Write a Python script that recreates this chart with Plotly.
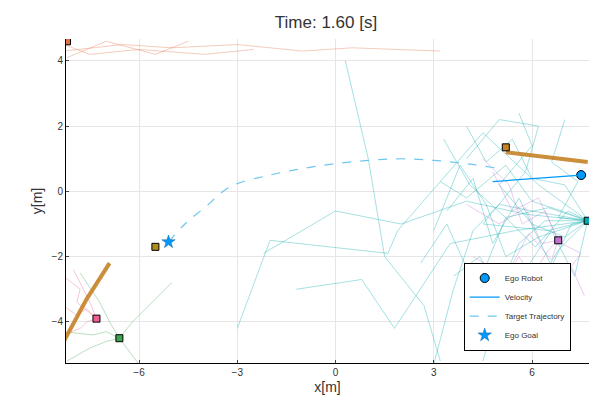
import plotly.graph_objects as go

# agent sample trajectories (hand-read, approximate)
cyan_paths = [
    [(3.0,-5.3),(3.6,-3.0),(4.2,-1.2),(5.0,-0.4),(6.0,-0.6),(7.7,-0.9)],
    [(0.3,4.0),(1.0,1.0),(1.5,-2.0),(2.7,-3.5),(3.2,-5.2)],
    [(-2.2,-1.9),(0.0,-0.6),(2.0,-1.0),(4.0,-0.3),(5.8,-0.7),(7.7,-0.9)],
    [(-1.2,-3.0),(0.8,-2.7),(1.8,-4.2),(3.5,-1.6),(5.5,-1.2),(7.7,-0.9)],
    [(-3.0,-4.2),(-2.0,-1.5),(1.6,-1.9),(1.9,-1.2),(4.5,1.8),(6.2,0.2),(7.7,-0.9)],
    [(4.0,1.0),(5.0,2.2),(6.2,2.0),(5.8,0.6),(4.5,-1.0),(6.5,-1.2),(7.7,-0.9)],
    [(3.4,-0.6),(4.2,0.4),(4.8,-1.6),(5.6,-0.2),(6.6,-2.3),(7.2,-1.0),(7.7,-0.9)],
    [(4.5,-5.2),(5.0,-3.4),(5.5,-2.2),(6.1,-3.0),(6.8,-1.8),(7.7,-0.9)],
    [(3.2,0.3),(4.0,-0.2),(5.2,0.8),(6.0,-0.3),(6.9,-0.6),(7.7,-0.9)],
    [(6.2,-4.0),(5.8,-2.4),(6.6,-1.2),(7.3,-2.6),(7.7,-0.9)],
    [(3.6,-2.6),(4.4,-2.0),(5.0,-3.0),(5.6,-1.6),(6.4,-0.9),(7.7,-0.9)],
    [(4.0,2.0),(4.6,0.9),(5.4,1.6),(6.0,0.4),(7.0,0.2),(7.7,-0.9)],
    [(7.0,2.2),(6.6,0.9),(7.4,0.3),(6.8,-0.8),(7.7,-0.9)],
    [(3.0,-1.2),(3.8,0.8),(4.6,-0.4),(5.2,-2.0),(6.2,-1.4),(7.7,-0.9)],
    [(2.6,-2.2),(3.4,-1.0),(4.3,-3.0),(5.2,-0.8),(6.5,-0.5),(7.7,-0.9)],
    [(5.6,2.4),(6.0,1.4),(5.0,0.2),(6.0,-1.0),(7.0,-1.4),(7.7,-0.9)],
    [(3.3,1.6),(4.1,0.2),(5.3,-0.9),(6.1,-1.7),(7.1,-0.6),(7.7,-0.9)],
]
purple_paths = [
    [(4.0,-0.4),(5.0,-1.0),(5.8,-0.5),(6.3,-1.6),(6.8,-1.5)],
    [(5.0,-3.0),(5.6,-2.0),(6.0,-2.6),(6.5,-1.8),(6.8,-1.5)],
    [(4.8,0.6),(5.4,-0.6),(6.2,-0.2),(6.6,-1.1),(6.8,-1.5)],
    [(7.6,-3.2),(7.2,-2.3),(7.5,-1.9),(6.9,-1.6),(6.8,-1.5)],
    [(4.2,-2.0),(5.2,-2.6),(5.9,-1.3),(6.6,-2.1),(6.8,-1.5)],
    [(4.5,1.0),(5.3,0.2),(5.7,-1.0),(6.4,-0.6),(6.8,-1.5)],
]
pink_paths = [
    [(-8.3,-3.5),(-7.9,-3.8),(-7.6,-3.6),(-7.3,-3.9)],
    [(-8.3,-2.6),(-7.8,-3.0),(-7.9,-3.4),(-7.3,-3.9)],
    [(-8.3,-4.4),(-7.8,-4.2),(-7.6,-4.0),(-7.3,-3.9)],
    [(-8.0,-2.4),(-7.6,-3.2),(-7.5,-3.4),(-7.3,-3.9)],
]
green_paths = [
    [(-8.2,-5.2),(-7.5,-4.8),(-7.0,-4.6),(-6.6,-4.5)],
    [(-5.0,-2.8),(-5.8,-3.6),(-6.2,-4.0),(-6.6,-4.5)],
    [(-7.8,-2.5),(-7.2,-3.4),(-6.9,-4.0),(-6.6,-4.5)],
    [(-6.0,-5.3),(-6.3,-4.9),(-6.6,-4.5)],
    [(-8.3,-4.3),(-7.4,-4.4),(-7.0,-4.3),(-6.6,-4.5)],
]
red_paths = [
    [(-8.3,4.3),(-6.5,4.5),(-5.0,4.4),(-3.0,4.5),(-1.0,4.3),(0.5,4.4),(3.2,4.3)],
    [(-8.3,4.5),(-7.5,4.2),(-6.0,4.35),(-4.0,4.2),(-2.5,4.35)],
    [(-8.2,4.1),(-7.0,4.6),(-5.5,4.2),(-4.5,4.6)],
]
brown_thick = [
    [(5.2,1.2),(6.5,1.05),(7.7,0.9)],
    [(-6.9,-2.2),(-7.6,-3.3),(-8.3,-4.6)],
]
target_x = [-5.1,-4.6,-4.0,-3.2,-2.0,-1.0,0.0,1.0,2.0,3.0,4.0,5.0]
target_y = [-1.55,-1.0,-0.5,0.15,0.5,0.7,0.85,0.95,1.0,0.95,0.85,0.7]
vel_x = [7.5, 4.8]
vel_y = [0.5, 0.3]
robot = (7.5, 0.5)
goal = (-5.1, -1.55)
sq_x = [-5.5, 5.2, 6.8, -7.3, -6.6, 7.7, -8.2]
sq_y = [-1.7, 1.35, -1.5, -3.9, -4.5, -0.9, 4.6]
sq_c = ["#AC8E18", "#C68225", "#C371D2", "#ED5E93", "#3EA44E", "#00AAAE", "#E36F47"]

fig = go.Figure()
def add_paths(paths, color, width=1, opacity=0.35):
    for p in paths:
        fig.add_trace(go.Scatter(x=[a for a, b in p], y=[b for a, b in p], mode="lines",
                                 line=dict(color=color, width=width), opacity=opacity,
                                 showlegend=False, hoverinfo="skip"))
add_paths(cyan_paths, "#00AAAE")
add_paths(purple_paths, "#C371D2")
add_paths(pink_paths, "#ED5E93")
add_paths(green_paths, "#3EA44E")
add_paths(red_paths, "#E36F47")
add_paths(brown_thick, "#C68225", width=4, opacity=0.9)

fig.add_trace(go.Scatter(x=sq_x, y=sq_y, mode="markers", showlegend=False,
                         marker=dict(symbol="square", size=7, color=sq_c, line=dict(color="black", width=1))))
fig.add_trace(go.Scatter(x=[robot[0]], y=[robot[1]], mode="markers", name="Ego Robot",
                         marker=dict(size=9, color="#009AFA", line=dict(color="black", width=1))))
fig.add_trace(go.Scatter(x=vel_x, y=vel_y, mode="lines", name="Velocity",
                         line=dict(color="#009AFA", width=1.2)))
fig.add_trace(go.Scatter(x=target_x, y=target_y, mode="lines", name="Target Trajectory",
                         line=dict(color="#6CC6EE", width=1.2, dash="dash"), line_shape="spline"))
fig.add_trace(go.Scatter(x=[goal[0]], y=[goal[1]], mode="markers", name="Ego Goal",
                         marker=dict(symbol="star", size=10, color="#009AFA", line=dict(color="#1060A0", width=0.5))))

axis = dict(showgrid=True, gridcolor="#E6E6E6", zeroline=False, showline=True, linecolor="black",
            mirror=False, ticks="inside", ticklen=3, tickfont=dict(size=10, color="#333"))
fig.update_layout(
    width=600, height=400, template="none", plot_bgcolor="white", paper_bgcolor="white",
    font=dict(family="Liberation Sans", color="#333"),
    title=dict(text="Time: 1.60 [s]", x=0.53, y=0.965, xanchor="center", yanchor="middle", font=dict(size=17)),
    margin=dict(l=58, r=19, t=31, b=45, autoexpand=False),
    xaxis=dict(axis, range=[-8.23, 7.74], tickvals=[-6, -3, 0, 3, 6],
               title=dict(text="x[m]", font=dict(size=14), standoff=5)),
    yaxis=dict(axis, range=[-5.26, 4.67], tickvals=[-4, -2, 0, 2, 4],
               title=dict(text="y[m]", font=dict(size=14), standoff=5)),
    legend=dict(x=0.965, y=0.31, xanchor="right", yanchor="top", bgcolor="white",
                bordercolor="black", borderwidth=1, font=dict(size=8), tracegroupgap=0,
                itemwidth=30, entrywidth=0),
)
fig.write_html("out.html")
